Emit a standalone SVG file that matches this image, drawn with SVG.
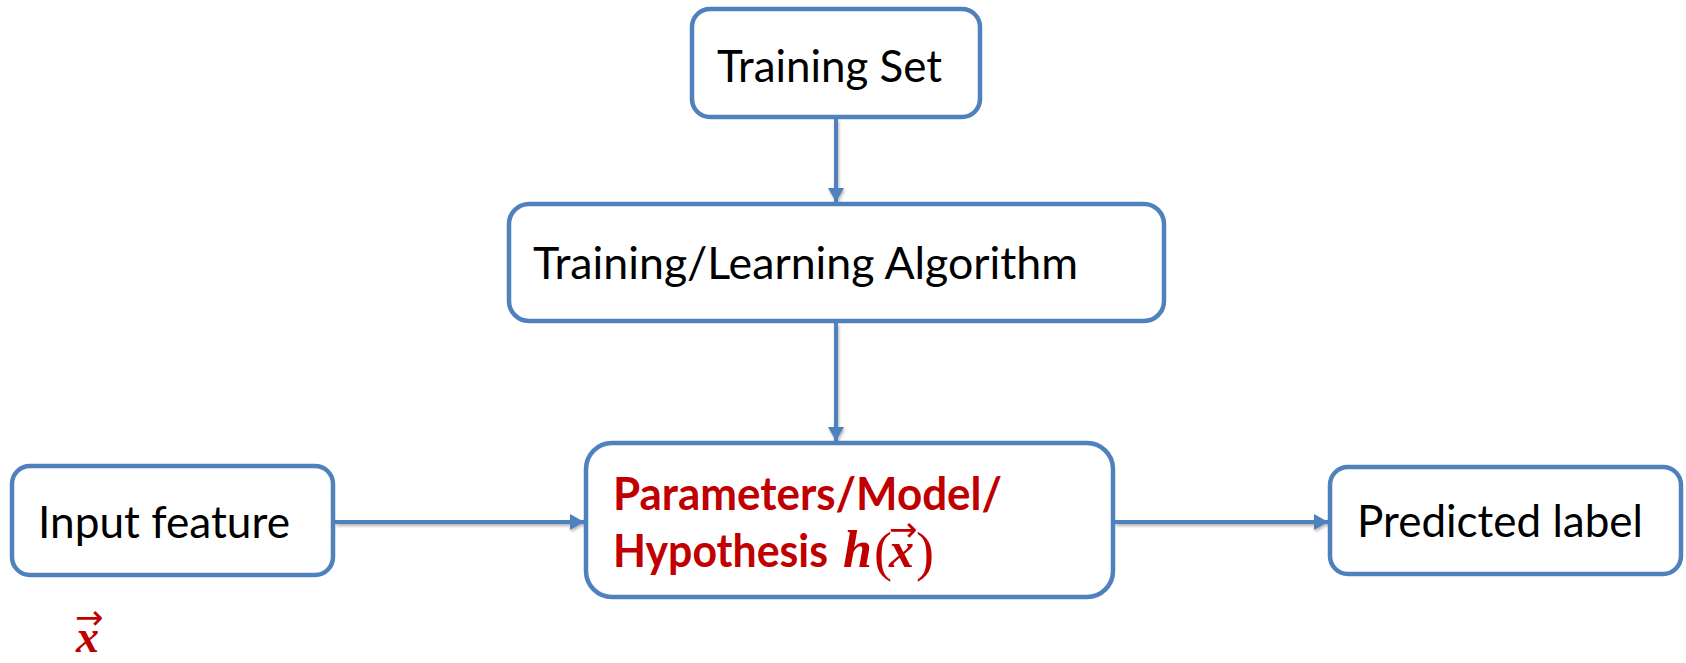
<svg xmlns="http://www.w3.org/2000/svg" width="1686" height="663" viewBox="0 0 1686 663">
  <style>
    .box { fill: #ffffff; stroke: #4F81BD; stroke-width: 4.5; }
    .lbl { font-family: Lato, "Open Sans", "Liberation Sans", sans-serif; font-size: 44px; fill: #000000; }
    .red { font-family: Lato, "Open Sans", "Liberation Sans", sans-serif; font-size: 45px; font-weight: 700; fill: #C00000; }
    .mtxt { fill: #C00000; font-family: "Liberation Serif", "DejaVu Serif", serif; }
    .math { font-family: "Liberation Serif", "DejaVu Serif", serif; font-weight: 700; font-style: italic; }
    .paren { font-family: "Liberation Serif", "DejaVu Serif", serif; font-weight: 400; font-style: normal; }
    .vec { font-family: "DejaVu Sans", sans-serif; font-weight: 400; font-style: normal; }
    .conn { stroke: #4F81BD; stroke-width: 4; fill: none; marker-end: url(#ah); }
  </style>
  <defs>
    <marker id="ah" markerUnits="userSpaceOnUse" markerWidth="15" markerHeight="16" refX="14" refY="8" orient="auto">
      <path d="M0,0 L14,8 L0,16 z" fill="#4F81BD"/>
    </marker>
    <filter id="sh" filterUnits="userSpaceOnUse" x="0" y="0" width="1686" height="663">
      <feDropShadow dx="1" dy="2" stdDeviation="1.5" flood-color="#000000" flood-opacity="0.3"/>
    </filter>
  </defs>

  <g id="connectors" filter="url(#sh)">
    <line class="conn" x1="836" y1="119" x2="836" y2="202"/>
    <line class="conn" x1="836" y1="323" x2="836" y2="441"/>
    <line class="conn" x1="335" y1="522" x2="584" y2="522"/>
    <line class="conn" x1="1115" y1="522" x2="1328" y2="522"/>
  </g>

  <g id="training-set">
    <rect class="box" x="692" y="9" width="288" height="108" rx="18"/>
    <text class="lbl" x="717" y="82" textLength="225" lengthAdjust="spacingAndGlyphs">Training Set</text>
  </g>

  <g id="training-algorithm">
    <rect class="box" x="509" y="204" width="655" height="117" rx="20"/>
    <text class="lbl" x="533" y="279" textLength="545" lengthAdjust="spacingAndGlyphs">Training/Learning Algorithm</text>
  </g>

  <g id="model">
    <rect class="box" x="586" y="443" width="527" height="154" rx="26"/>
    <text class="red" x="613" y="510" textLength="389" lengthAdjust="spacingAndGlyphs">Parameters/Model/</text>
    <text class="red" x="613" y="567" textLength="215" lengthAdjust="spacingAndGlyphs">Hypothesis</text>
    <text class="mtxt"><tspan class="math" x="843" y="567" font-size="52">h</tspan><tspan class="paren" x="874" y="570" font-size="54">(</tspan><tspan class="math" x="889" y="567" font-size="50">x</tspan><tspan class="vec" x="889" y="541" font-size="34">→</tspan><tspan class="paren" x="916" y="570" font-size="54">)</tspan></text>
  </g>

  <g id="input-feature">
    <rect class="box" x="12" y="466" width="321" height="109" rx="18"/>
    <text class="lbl" x="38" y="538" textLength="252" lengthAdjust="spacingAndGlyphs">Input feature</text>
  </g>

  <g id="input-vector">
    <text class="mtxt"><tspan class="math" x="76" y="652" font-size="46">x</tspan><tspan class="vec" x="75" y="629" font-size="34">→</tspan></text>
  </g>

  <g id="predicted-label">
    <rect class="box" x="1330" y="467" width="351" height="107" rx="18"/>
    <text class="lbl" x="1357" y="537" textLength="286" lengthAdjust="spacingAndGlyphs">Predicted label</text>
  </g>
</svg>
